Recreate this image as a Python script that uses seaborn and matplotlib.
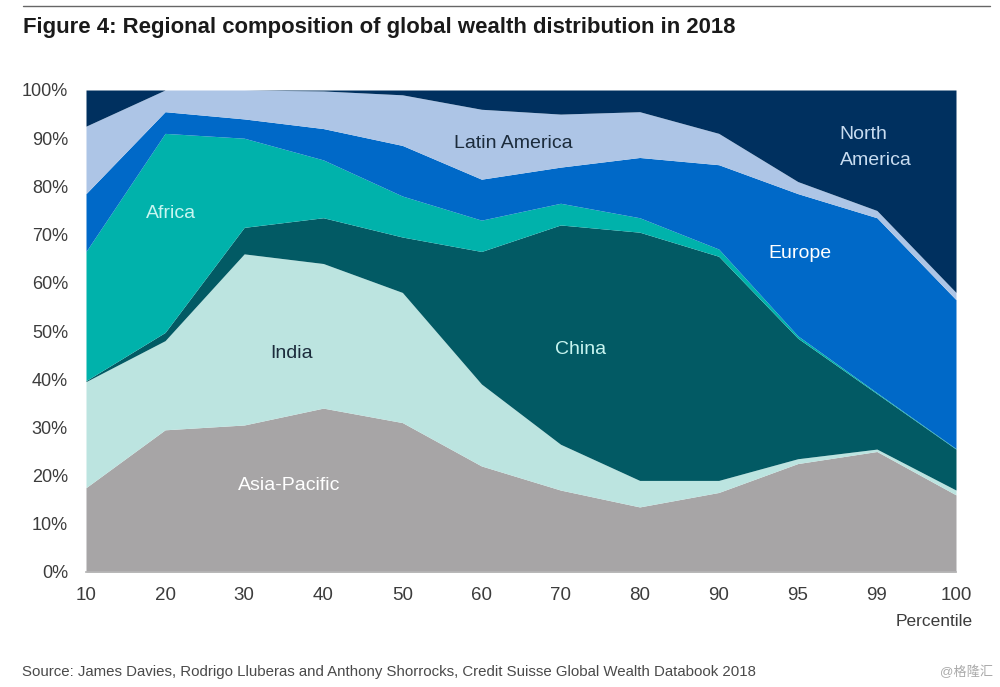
import matplotlib
matplotlib.use('Agg')
import matplotlib.pyplot as plt
import seaborn as sns

# Percentile groups, evenly spaced on the axis
percentiles = ['10', '20', '30', '40', '50', '60', '70', '80', '90', '95', '99', '100']

# Share of each region (%)
asia_pacific = [17.5, 29.5, 30.5, 34.0, 31.0, 22.0, 17.0, 13.5, 16.5, 22.5, 25.0, 16.0]
india = [22.0, 18.5, 35.5, 30.0, 27.0, 17.0, 9.5, 5.5, 2.5, 1.0, 0.5, 1.0]
china = [0.2, 1.7, 5.5, 9.5, 11.5, 27.5, 45.5, 51.5, 46.5, 25.0, 11.5, 8.5]
africa = [26.8, 41.3, 18.5, 12.0, 8.5, 6.5, 4.5, 3.0, 1.5, 0.5, 0.2, 0.1]
europe = [12.0, 4.5, 4.0, 6.5, 10.5, 8.5, 7.5, 12.5, 17.5, 29.5, 36.3, 30.9]
latin_america = [14.0, 4.5, 6.0, 7.8, 10.5, 14.5, 11.0, 9.5, 6.5, 2.5, 1.5, 1.5]
north_america = [7.5, 0.0, 0.0, 0.2, 1.0, 4.0, 5.0, 4.5, 9.0, 19.0, 25.0, 42.0]

colors = ['#a7a5a6', '#bce4e0', '#025a64', '#00b2ab', '#0069c8', '#adc5e6', '#00305f']
y_ticks = list(range(0, 101, 10))

sns.set_theme(style='white')
plt.rcParams['font.family'] = ['Liberation Sans', 'Noto Sans CJK SC', 'DejaVu Sans']

fig = plt.figure(figsize=(10, 6.87), dpi=100)
ax = fig.add_axes([0.086, 1 - 572 / 687, 0.87, 482 / 687])

x = list(range(len(percentiles)))
ax.stackplot(x, asia_pacific, india, china, africa, europe, latin_america, north_america,
             colors=colors, linewidth=0)

ax.set_xlim(0, len(percentiles) - 1)
ax.set_ylim(0, 100)
ax.set_xticks(x)
ax.set_xticklabels(percentiles)
ax.set_yticks(y_ticks)
ax.set_yticklabels([f'{t}%' for t in y_ticks])
ax.tick_params(axis='x', length=5, width=0.8, color='#b5b5b5', labelsize=13.5, labelcolor='#3c3c3c', pad=6)
ax.tick_params(axis='y', length=0, labelsize=13, labelcolor='#3c3c3c', pad=13)
sns.despine(ax=ax, left=True, top=True, right=True)
ax.spines['bottom'].set_color('#b5b5b5')

# Region labels inside the areas
labels = [
    (1.07, 74.3, 'Africa', '#c8f5f0'),
    (2.6, 45.3, 'India', '#1c2c3c'),
    (2.57, 18.0, 'Asia-Pacific', 'white'),
    (6.25, 46.1, 'China', '#c8f5f0'),
    (5.4, 89.0, 'Latin America', '#1c2c3c'),
    (9.03, 66.0, 'Europe', 'white'),
]
for lx, ly, text, col in labels:
    ax.text(lx, ly, text, color=col, fontsize=14, ha='center', va='center')
ax.text(9.53, 88.1, 'North\nAmerica', color='#c8dcf0', fontsize=14, ha='left', va='center', linespacing=1.7)

# Title, rule, source and the rest outside the axes
fig.add_artist(plt.Line2D([0.023, 0.99], [1 - 5.5 / 687] * 2, color='#666666', lw=1))
fig.text(0.023, 1 - 28 / 687, 'Figure 4: Regional composition of global wealth distribution in 2018',
         fontsize=15.95, fontweight='bold', color='#1a1a1a', va='center')
fig.text(0.973, 1 - 621 / 687, 'Percentile', fontsize=12.5, color='#3c3c3c', ha='right', va='center')
fig.text(0.022, 1 - 672 / 687,
         'Source: James Davies, Rodrigo Lluberas and Anthony Shorrocks, Credit Suisse Global Wealth Databook 2018',
         fontsize=10.8, color='#4a4a4a', va='center')
fig.text(0.993, 1 - 672 / 687, '@格隆汇', fontsize=9.5, color='#aaaaaa', ha='right', va='center')

fig.savefig('out.png', dpi=100)
